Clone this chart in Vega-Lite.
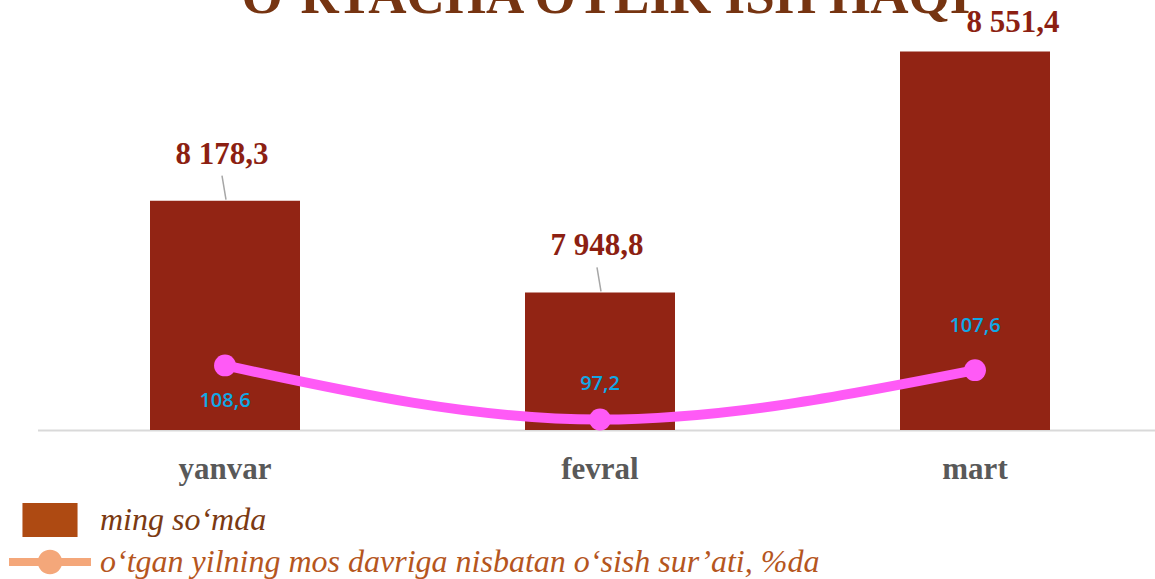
{
  "$schema": "https://vega.github.io/schema/vega-lite/v6.json",
  "width": 1125,
  "height": 400,
  "autosize": {"type": "none"},
  "padding": {"left": 37.5, "top": 30, "right": 0, "bottom": 149},
  "background": "white",
  "config": {
    "view": {"stroke": null},
    "locale": {"number": {"decimal": ",", "thousands": " ", "grouping": [3], "currency": ["", ""]}}
  },
  "title": {
    "text": "O‘RTACHA OYLIK ISH HAQI",
    "font": "Liberation Serif",
    "fontSize": 53,
    "fontWeight": "bold",
    "color": "#763411",
    "anchor": "middle",
    "baseline": "alphabetic",
    "offset": 0,
    "dx": 6,
    "dy": 59
  },
  "data": {
    "values": [
      {"month": "yanvar", "value": 8178.3, "pct": 108.6},
      {"month": "fevral", "value": 7948.8, "pct": 97.2},
      {"month": "mart", "value": 8551.4, "pct": 107.6}
    ]
  },
  "encoding": {
    "x": {
      "field": "month",
      "type": "nominal",
      "sort": null,
      "scale": {"paddingInner": 0.6, "paddingOuter": 0.3},
      "axis": {
        "title": null,
        "labelAngle": 0,
        "labelFont": "Liberation Serif",
        "labelFontWeight": "bold",
        "labelFontSize": 31,
        "labelColor": "#595959",
        "labelPadding": 24,
        "ticks": false,
        "domainColor": "#d9d9d9",
        "domainWidth": 2
      }
    }
  },
  "layer": [
    {
      "mark": {"type": "bar", "color": "#922414", "clip": true},
      "encoding": {
        "y": {"field": "value", "type": "quantitative", "scale": {"domain": [7605, 8605], "zero": false, "nice": false}, "axis": null}
      }
    },
    {
      "transform": [{"filter": "datum.month != 'mart'"}],
      "mark": {"type": "rule", "color": "#a6a6a6", "strokeWidth": 1.5, "yOffset": -1, "y2Offset": -25, "xOffset": 1, "x2Offset": -3},
      "encoding": {
        "y": {"field": "value", "type": "quantitative", "scale": {"domain": [7605, 8605], "zero": false, "nice": false}, "axis": null},
        "y2": {"field": "value"},
        "x2": {"field": "month"}
      }
    },
    {
      "transform": [{"filter": "datum.month != 'mart'"}],
      "mark": {"type": "text", "font": "Liberation Serif", "fontWeight": "bold", "fontSize": 31, "color": "#8c1f12", "baseline": "alphabetic", "dy": -37, "dx": -3},
      "encoding": {
        "y": {"field": "value", "type": "quantitative", "scale": {"domain": [7605, 8605], "zero": false, "nice": false}, "axis": null},
        "text": {"field": "value", "type": "quantitative", "format": ",.1f"}
      }
    },
    {
      "transform": [{"filter": "datum.month == 'mart'"}],
      "mark": {"type": "text", "font": "Liberation Serif", "fontWeight": "bold", "fontSize": 31, "color": "#8c1f12", "baseline": "alphabetic", "dy": -19, "dx": 38},
      "encoding": {
        "y": {"field": "value", "type": "quantitative", "scale": {"domain": [7605, 8605], "zero": false, "nice": false}, "axis": null},
        "text": {"field": "value", "type": "quantitative", "format": ",.1f"}
      }
    },
    {
      "mark": {"type": "line", "color": "#ff5af6", "strokeWidth": 10, "interpolate": "monotone"},
      "encoding": {
        "y": {"field": "pct", "type": "quantitative", "scale": {"domain": [95, 179.2], "zero": false, "nice": false}, "axis": null}
      }
    },
    {
      "mark": {"type": "point", "filled": true, "opacity": 1, "color": "#ff5af6", "size": 480},
      "encoding": {
        "y": {"field": "pct", "type": "quantitative", "scale": {"domain": [95, 179.2], "zero": false, "nice": false}, "axis": null}
      }
    },
    {
      "transform": [{"filter": "datum.month == 'yanvar'"}],
      "mark": {"type": "text", "font": "Open Sans", "fontSize": 20, "fontWeight": 600, "color": "#0fa8e6", "baseline": "middle", "dy": 36},
      "encoding": {
        "y": {"field": "pct", "type": "quantitative", "scale": {"domain": [95, 179.2], "zero": false, "nice": false}, "axis": null},
        "text": {"field": "pct", "type": "quantitative", "format": ".1f"}
      }
    },
    {
      "transform": [{"filter": "datum.month == 'fevral'"}],
      "mark": {"type": "text", "font": "Open Sans", "fontSize": 20, "fontWeight": 600, "color": "#0fa8e6", "baseline": "middle", "dy": -36},
      "encoding": {
        "y": {"field": "pct", "type": "quantitative", "scale": {"domain": [95, 179.2], "zero": false, "nice": false}, "axis": null},
        "text": {"field": "pct", "type": "quantitative", "format": ".1f"}
      }
    },
    {
      "transform": [{"filter": "datum.month == 'mart'"}],
      "mark": {"type": "text", "font": "Open Sans", "fontSize": 20, "fontWeight": 600, "color": "#0fa8e6", "baseline": "middle", "dy": -44},
      "encoding": {
        "y": {"field": "pct", "type": "quantitative", "scale": {"domain": [95, 179.2], "zero": false, "nice": false}, "axis": null},
        "text": {"field": "pct", "type": "quantitative", "format": ".1f"}
      }
    },
    {
      "data": {"values": [{"series": "ming so‘mda"}, {"series": "o‘tgan yilning mos davriga nisbatan o‘sish sur’ati, %da"}]},
      "mark": {"type": "point", "filled": true, "opacity": 0},
      "encoding": {
        "x": {"value": 0},
        "y": {"value": 0},
        "color": {
          "field": "series", "type": "nominal", "sort": null,
          "scale": {"domain": ["ming so‘mda", "o‘tgan yilning mos davriga nisbatan o‘sish sur’ati, %da"], "range": ["#ae4a12", "#f4a77a"]},
          "legend": {
            "orient": "none",
            "legendX": -4.5,
            "legendY": 473,
            "title": null,
            "padding": 0,
            "symbolSize": 1156,
            "symbolOpacity": 1,
            "symbolStrokeWidth": 0,
            "labelFont": "Liberation Serif",
            "labelFontStyle": "italic",
            "labelFontSize": 32,
            "labelOffset": 33,
            "rowPadding": 8,
            "labelLimit": 1100,
            "encode": {
              "labels": {"update": {"fill": {"signal": "datum.index == 0 ? '#7b3a12' : '#b5561e'"}}}
            }
          }
        },
        "shape": {
          "field": "series", "type": "nominal", "sort": null,
          "scale": {"domain": ["ming so‘mda", "o‘tgan yilning mos davriga nisbatan o‘sish sur’ati, %da"], "range": ["M-1.62,-1 H1.62 V1 H-1.62 Z", "M-2.41,-0.235 H2.41 V0.235 H-2.41 Z M-0.72,0 A0.72,0.72 0 1,1 0.72,0 A0.72,0.72 0 1,1 -0.72,0 Z"]}
        }
      }
    }
  ],
  "resolve": {"scale": {"y": "independent"}}
}
